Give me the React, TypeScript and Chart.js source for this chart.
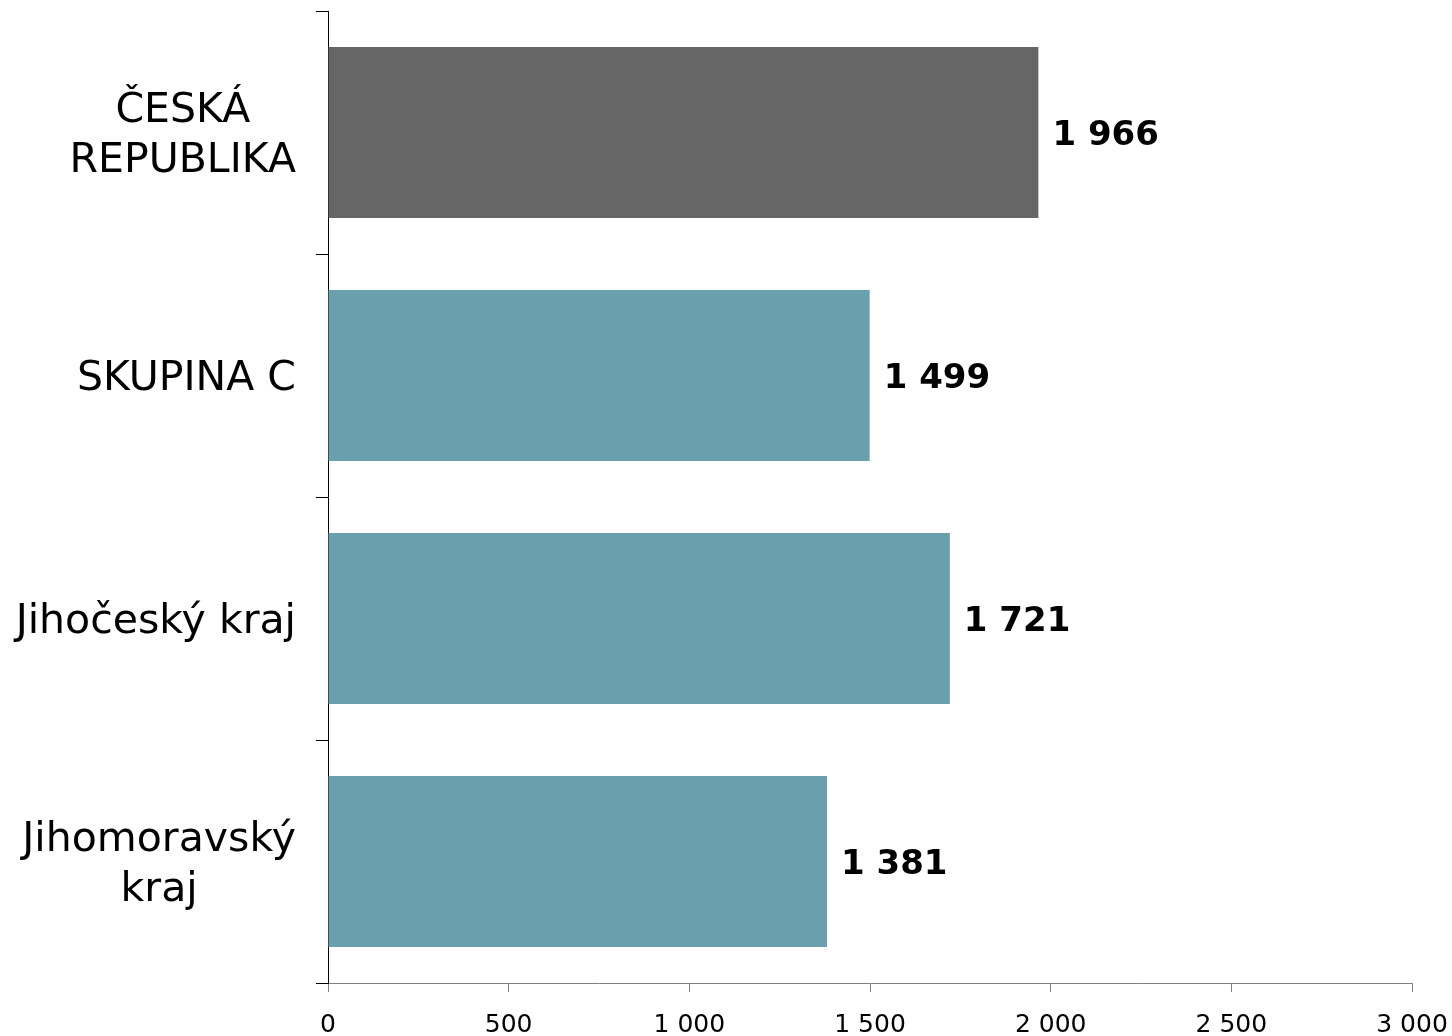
import React, { useEffect, useRef } from "react";
import { Chart, registerables } from "chart.js";

Chart.register(...registerables);

const categories: string[][] = [
  ["ČESKÁ", "REPUBLIKA"],
  ["SKUPINA C"],
  ["Jihočeský kraj"],
  ["Jihomoravský", "kraj"],
];
const values = [1966, 1499, 1721, 1381];
const barColors = ["#666666", "#6A9FAD", "#6A9FAD", "#6A9FAD"];
const xMin = 0;
const xMax = 3000;
const xStep = 500;

function fmt(n: number): string {
  return String(n).replace(/\B(?=(\d{3})+(?!\d))/g, " ");
}

const labelPlugin = {
  id: "customLabels",
  afterDraw(chart: any) {
    const ctx = chart.ctx;
    const yScale = chart.scales.y;
    const xScale = chart.scales.x;
    ctx.save();
    // category labels: block right aligned, lines centered
    ctx.font = '41px "DejaVu Sans"';
    ctx.fillStyle = "#000";
    ctx.textBaseline = "middle";
    ctx.textAlign = "center";
    const lh = 50;
    const rightEdge = yScale.right - 32;
    categories.forEach((lines, i) => {
      const yc = yScale.getPixelForValue(i) + 4;
      const widths = lines.map((l) => ctx.measureText(l).width);
      const maxW = Math.max(...widths);
      const cx = rightEdge - maxW / 2;
      const y0 = yc - ((lines.length - 1) * lh) / 2;
      lines.forEach((l, k) => {
        ctx.fillText(l, cx, y0 + k * lh);
      });
    });
    // value labels
    ctx.font = 'bold 34px "DejaVu Sans"';
    ctx.textAlign = "left";
    values.forEach((v, i) => {
      const x = xScale.getPixelForValue(v) + 14;
      const y = yScale.getPixelForValue(i) + 4;
      ctx.fillText(fmt(v), x, y);
    });
    ctx.restore();
  },
};

export default function App() {
  const ref = useRef<HTMLCanvasElement | null>(null);
  useEffect(() => {
    if (!ref.current) return;
    const chart = new Chart(ref.current, {
      type: "bar",
      data: {
        labels: categories.map((c) => c.join(" ")),
        datasets: [
          {
            data: values,
            backgroundColor: barColors,
            borderWidth: 0,
            barPercentage: 0.704,
            categoryPercentage: 1,
          },
        ],
      },
      options: {
        indexAxis: "y",
        responsive: false,
        animation: false,
        layout: { padding: { top: 11, right: 40, left: 0, bottom: 0 } },
        plugins: {
          legend: { display: false },
          tooltip: { enabled: false },
          title: { display: false },
        },
        scales: {
          x: {
            type: "linear",
            min: xMin,
            max: xMax,
            ticks: {
              stepSize: xStep,
              callback: (v: any) => fmt(Number(v)),
              font: { family: "DejaVu Sans", size: 25 },
              color: "#000",
              padding: 18,
              maxRotation: 0,
            },
            grid: {
              drawOnChartArea: false,
              drawTicks: true,
              tickLength: 9,
              color: "#808080",
            },
            border: { color: "#808080", width: 1 },
            afterFit: (s: any) => {
              s.height = 53;
              s.paddingRight = 0;
              s.paddingLeft = 0;
            },
          },
          y: {
            type: "category",
            ticks: { display: false },
            grid: {
              offset: true,
              drawOnChartArea: false,
              drawTicks: true,
              tickLength: 12,
              color: "#000",
            },
            border: { color: "#000", width: 1 },
            afterFit: (s: any) => {
              s.width = 328;
            },
          },
        },
      },
      plugins: [labelPlugin],
    } as any);
    return () => chart.destroy();
  }, []);
  return (
    <div style={{ position: "absolute", left: 0, top: 0, width: 1452, height: 1036, background: "#fff" }}>
      <canvas ref={ref} width={1452} height={1036} style={{ display: "block" }} />
    </div>
  );
}
